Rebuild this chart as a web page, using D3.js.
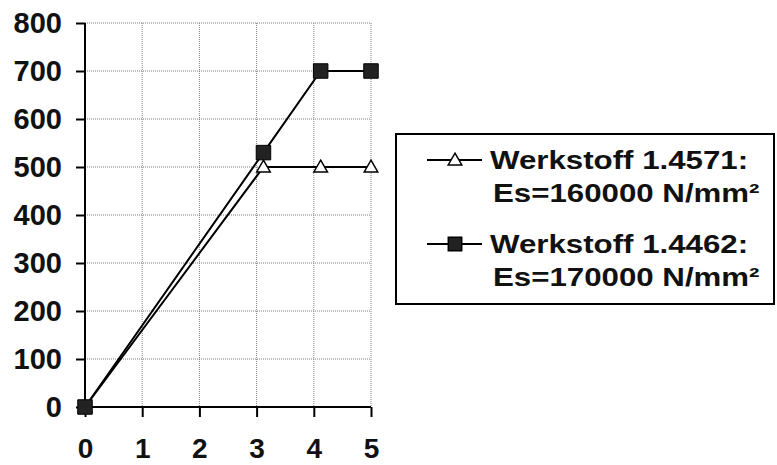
<!DOCTYPE html>
<html><head><meta charset="utf-8">
<script src="https://cdn.jsdelivr.net/npm/d3@7"></script>
<style>body{margin:0;background:#fff}svg{display:block}</style>
</head><body>
<script>
const xTicks = [0, 1, 2, 3, 4, 5];
const yTicks = [0, 100, 200, 300, 400, 500, 600, 700, 800];
const seriesNames = ["Werkstoff 1.4571:", "Werkstoff 1.4462:"];
const seriesSub = ["Es=160000 N/mm²", "Es=170000 N/mm²"];
const s1x = [0, 3.12, 4.12, 5];
const s1y = [0, 500, 500, 500];
const s2x = [0, 3.12, 4.12, 5];
const s2y = [0, 530, 700, 700];

const W = 777, H = 465;
const svg = d3.select("body").append("svg").attr("width", W).attr("height", H);
const font = "'Liberation Sans', Arial, sans-serif";
const x = d3.scaleLinear().domain([0, 5]).range([85, 371]);
const y = d3.scaleLinear().domain([0, 800]).range([407, 23]);

// gridlines
const grid = svg.append("g").attr("stroke", "#808080").attr("stroke-width", 1).attr("stroke-dasharray", "1,1");
xTicks.filter(d => d > 0).forEach(d => grid.append("line").attr("x1", x(d)).attr("x2", x(d)).attr("y1", y(800)).attr("y2", y(0)));
yTicks.filter(d => d > 0).forEach(d => grid.append("line").attr("x1", x(0)).attr("x2", x(5)).attr("y1", y(d)).attr("y2", y(d)));

// axes
const yAxis = svg.append("g").attr("transform", `translate(${x(0)},0)`)
  .call(d3.axisLeft(y).tickValues(yTicks).tickSize(9).tickPadding(14).tickFormat(d3.format("d")));
const xAxis = svg.append("g").attr("transform", `translate(0,${y(0)})`)
  .call(d3.axisBottom(x).tickValues(xTicks).tickSize(10).tickPadding(13).tickFormat(d3.format("d")));
[yAxis, xAxis].forEach(a => {
  a.select(".domain").attr("stroke", "#000").attr("stroke-width", 2);
  a.selectAll(".tick line").attr("stroke", "#000").attr("stroke-width", 2);
  a.selectAll("text").attr("font-family", font).attr("font-weight", "bold").attr("font-size", 29).attr("fill", "#111");
});
yAxis.select(".domain").attr("d", `M0,${y(800)}H0V${y(0)}`);
xAxis.select(".domain").attr("d", `M${x(0)},0H${x(5)}`);
xAxis.selectAll("text").attr("dy", null).attr("y", 51).attr("font-size", 28);

const line = d3.line().x(d => x(d[0])).y(d => y(d[1]));
const d1 = s1x.map((v, i) => [v, s1y[i]]);
const d2 = s2x.map((v, i) => [v, s2y[i]]);
svg.append("path").attr("d", line(d1)).attr("fill", "none").attr("stroke", "#000").attr("stroke-width", 2);
svg.append("path").attr("d", line(d2)).attr("fill", "none").attr("stroke", "#000").attr("stroke-width", 2);

const tri = d3.symbol().type(d3.symbolTriangle).size(80);
const sq = d3.symbol().type(d3.symbolSquare).size(210);
svg.append("g").selectAll("path").data(d1).join("path")
  .attr("d", tri).attr("transform", d => `translate(${x(d[0])},${y(d[1]) + 1})`)
  .attr("fill", "#fff").attr("stroke", "#000").attr("stroke-width", 1.5);
svg.append("g").selectAll("path").data(d2).join("path")
  .attr("d", sq).attr("transform", d => `translate(${x(d[0])},${y(d[1])})`)
  .attr("fill", "#222").attr("stroke", "#000").attr("stroke-width", 1);

// legend
const lg = svg.append("g");
lg.append("rect").attr("x", 396).attr("y", 134).attr("width", 378).attr("height", 170)
  .attr("fill", "#fff").attr("stroke", "#000").attr("stroke-width", 2);
const rows = [
  {yy: 160, fill: "#fff", dy: 1},
  {yy: 244, fill: "#222", dy: 0}
];
rows.forEach((r, i) => {
  lg.append("line").attr("x1", 427).attr("x2", 482).attr("y1", r.yy).attr("y2", r.yy).attr("stroke", "#000").attr("stroke-width", 2);
  lg.append("path").attr("d", i === 0 ? d3.symbol().type(d3.symbolTriangle).size(80)() : d3.symbol().type(d3.symbolSquare).size(180)())
    .attr("transform", `translate(455,${r.yy + r.dy})`).attr("fill", r.fill).attr("stroke", "#000").attr("stroke-width", 1.5);
  lg.append("text").attr("transform", `translate(490,${r.yy + 9}) scale(1.25,1)`)
    .attr("font-family", font).attr("font-weight", "bold").attr("font-size", 25).attr("fill", "#111").text(seriesNames[i]);
  lg.append("text").attr("transform", `translate(493,${r.yy + 42}) scale(1.25,1)`)
    .attr("font-family", font).attr("font-weight", "bold").attr("font-size", 25).attr("fill", "#111").text(seriesSub[i]);
});
</script>
</body></html>
